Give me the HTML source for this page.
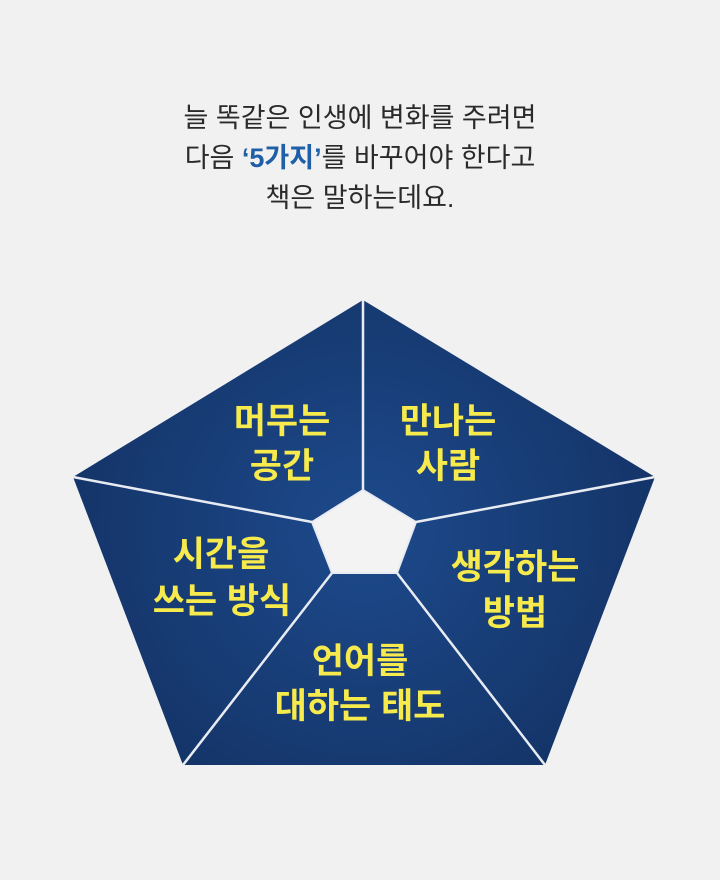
<!DOCTYPE html>
<html><head><meta charset="utf-8"><style>
body{margin:0;width:720px;height:880px;background:#f1f1f1;overflow:hidden;font-family:"Liberation Sans","Noto Sans CJK KR",sans-serif;}
.t{position:absolute;left:0;width:720px;text-align:center;font-size:27px;color:#2a2a2a;line-height:40px;}
</style></head><body>
<div class="t" style="top:98px">늘 똑같은 인생에 변화를 주려면<br>다음 <span style="color:#1f5fa8;font-weight:bold">‘5가지’</span>를 바꾸어야 한다고<br>책은 말하는데요.</div>
<svg width="720" height="880" style="position:absolute;left:0;top:0">
<defs><radialGradient id="g" cx="363" cy="530" r="300" gradientUnits="userSpaceOnUse"><stop offset="0" stop-color="#1d4a8c"/><stop offset="1" stop-color="#143468"/></radialGradient></defs>
<polygon points="363,300 655,477 545,765 183,765 73,477" fill="url(#g)"/>
<g stroke="#e8ecf2" stroke-width="2.5">
<line x1="363" y1="300" x2="363" y2="490"/>
<line x1="655" y1="477" x2="416" y2="522"/>
<line x1="545" y1="765" x2="397" y2="573"/>
<line x1="183" y1="765" x2="332" y2="573"/>
<line x1="73" y1="477" x2="312" y2="522"/>
</g>
<polygon points="363,490 416,522 397,573 332,573 312,522" fill="#f3f3f3" stroke="#e8ecf2" stroke-width="2"/>
<g fill="#f6ea4c" font-family="Liberation Sans,Noto Sans CJK KR,sans-serif" font-weight="bold" font-size="35" text-anchor="middle">
<text x="282" y="433">머무는</text><text x="282" y="478">공간</text>
<text x="448" y="433">만나는</text><text x="448" y="478">사람</text>
<text x="221" y="566">시간을</text><text x="222" y="613">쓰는 방식</text>
<text x="515" y="579">생각하는</text><text x="515" y="625">방법</text>
<text x="360" y="673">언어를</text><text x="360" y="718">대하는 태도</text>
</g>
</svg>
</body></html>
